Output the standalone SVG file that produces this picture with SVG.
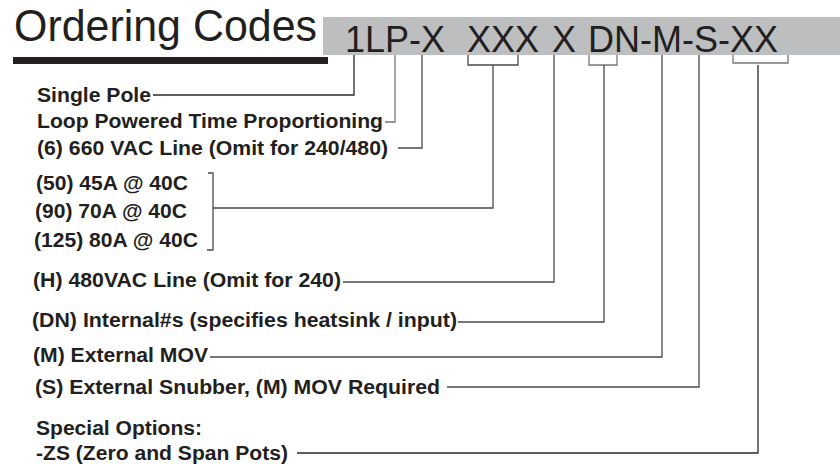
<svg xmlns="http://www.w3.org/2000/svg" width="840" height="466" viewBox="0 0 840 466">
<style>
.lbl{font-family:"Liberation Sans",Arial,sans-serif;font-weight:bold;font-size:20px;fill:#231f20}
.code{font-family:"Liberation Sans",Arial,sans-serif;font-size:36px;fill:#231f20}
.title{font-family:"Liberation Sans",Arial,sans-serif;font-size:44px;fill:#231f20}
.ln{fill:none;stroke:#4a4a4a;stroke-width:1.3}
</style>
<rect width="840" height="466" fill="#fff"/>
<g id="title">
<text class="title" x="14" y="41" textLength="303" lengthAdjust="spacingAndGlyphs">Ordering Codes</text>
<rect x="13" y="57" width="315" height="7" fill="#231f20"/>
</g>
<g id="code">
<rect x="323" y="17" width="517" height="38" fill="#bcbec0"/>
<text class="code" y="52"><tspan x="345">1LP-X</tspan><tspan x="467">XXX</tspan><tspan x="552">X</tspan><tspan x="588">DN-M-S-XX</tspan></text>
</g>
<g id="labels">
<text id="n1" class="lbl" x="37" y="102" textLength="114" lengthAdjust="spacingAndGlyphs">Single Pole</text>
<text id="n2" class="lbl" x="37" y="128" textLength="346" lengthAdjust="spacingAndGlyphs">Loop Powered Time Proportioning</text>
<text id="n3" class="lbl" x="37" y="155" textLength="351" lengthAdjust="spacingAndGlyphs">(6) 660 VAC Line (Omit for 240/480)</text>
<text id="n4" class="lbl" x="36" y="190" textLength="152" lengthAdjust="spacingAndGlyphs">(50) 45A @ 40C</text>
<text id="n5" class="lbl" x="35" y="218" textLength="152" lengthAdjust="spacingAndGlyphs">(90) 70A @ 40C</text>
<text id="n6" class="lbl" x="34" y="247" textLength="164" lengthAdjust="spacingAndGlyphs">(125) 80A @ 40C</text>
<text id="n7" class="lbl" x="33" y="287" textLength="308" lengthAdjust="spacingAndGlyphs">(H) 480VAC Line (Omit for 240)</text>
<text id="n8" class="lbl" x="32" y="327" textLength="425" lengthAdjust="spacingAndGlyphs">(DN) Internal#s (specifies heatsink / input)</text>
<text id="n9" class="lbl" x="33" y="362" textLength="175" lengthAdjust="spacingAndGlyphs">(M) External MOV</text>
<text id="n10" class="lbl" x="35" y="394" textLength="405" lengthAdjust="spacingAndGlyphs">(S) External Snubber, (M) MOV Required</text>
<text id="n11" class="lbl" x="36" y="435" textLength="166" lengthAdjust="spacingAndGlyphs">Special Options:</text>
<text id="n12" class="lbl" x="36" y="460" textLength="252" lengthAdjust="spacingAndGlyphs">-ZS (Zero and Span Pots)</text>
</g>
<g id="connectors">
<polyline class="ln" points="354,55 354,95 153,95" style="stroke:#2a2a2a"/>
<polyline class="ln" points="395,55 395,122 385,122" style="stroke:#777"/>
<polyline class="ln" points="422,55 422,148 398,148"/>
<polyline class="ln" points="468,55 468,65 518,65 518,55"/>
<polyline class="ln" points="493,65 493,208 213,208"/>
<polyline class="ln" points="208,173 213,173 213,250 207,250"/>
<polyline class="ln" points="554,55 554,282 343,282"/>
<polyline class="ln" points="589,55 589,65 617,65 617,55" style="stroke:#777"/>
<polyline class="ln" points="604,65 604,322 458,322"/>
<polyline class="ln" points="662,55 662,357 210,357"/>
<polyline class="ln" points="699,55 699,387 447,387"/>
<polyline class="ln" points="733,55 733,63 788,63 788,55" style="stroke:#777"/>
<polyline class="ln" points="758,65 758,453 297,453" style="stroke:#2a2a2a"/>
</g>
</svg>
